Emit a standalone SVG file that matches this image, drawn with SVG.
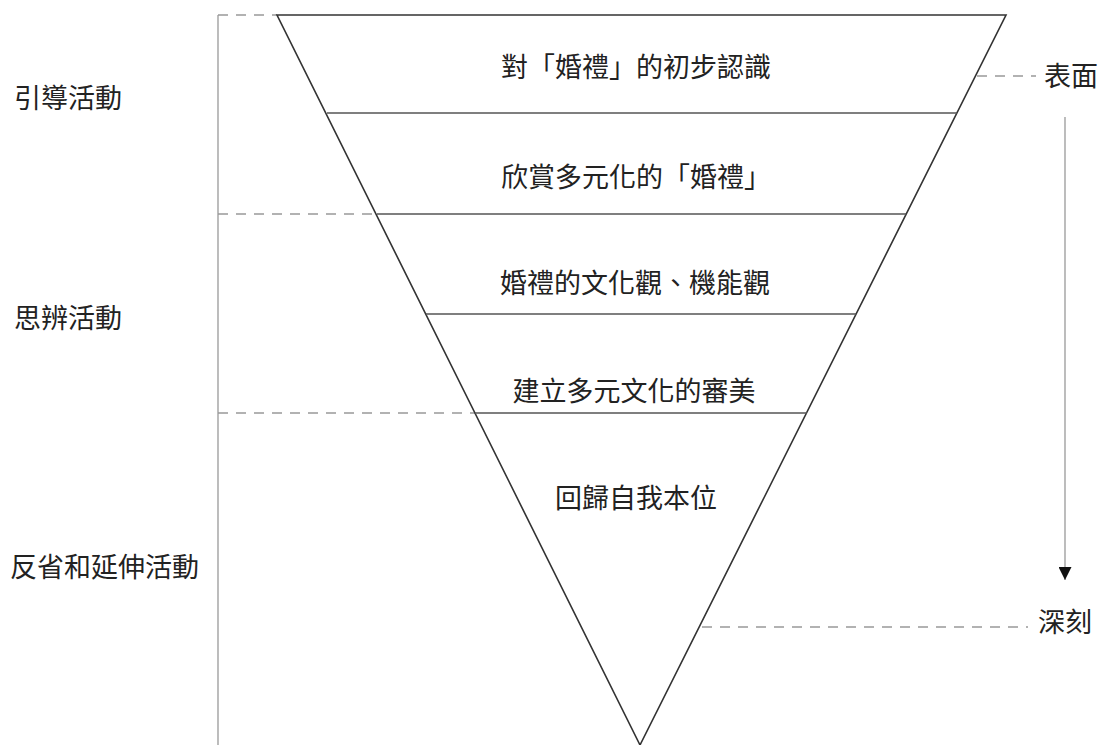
<svg xmlns="http://www.w3.org/2000/svg" width="1100" height="745" viewBox="0 0 1100 745">
<defs>
<style>
text{font-family:"Noto Sans CJK TC","Noto Sans CJK SC",sans-serif;font-size:27px;fill:#222}
.mid{text-anchor:middle}
.tri{fill:none;stroke:#333;stroke-width:1.6}
.band{stroke:#555;stroke-width:1.3}
.dash{stroke:#999;stroke-width:1.3;stroke-dasharray:10 8}
.vline{stroke:#999;stroke-width:1.3}
</style>
<marker id="ah" viewBox="0 0 10 10" refX="10" refY="5" markerWidth="13" markerHeight="13" markerUnits="userSpaceOnUse" orient="auto">
<path d="M0,0 L10,5 L0,10 Z" fill="#111"/>
</marker>
</defs>
<rect width="1100" height="745" fill="#fff"/>
<g id="connectors">
<line class="vline" x1="218" y1="15" x2="218" y2="745"/>
<line class="dash" x1="218" y1="15" x2="277" y2="15"/>
<line class="dash" x1="218" y1="214" x2="377" y2="214"/>
<line class="dash" x1="218" y1="413" x2="475" y2="413"/>
<line class="dash" x1="977" y1="76" x2="1036" y2="76"/>
<line class="dash" x1="702" y1="627" x2="1028" y2="627"/>
<line x1="1065" y1="117" x2="1065" y2="580" stroke="#999" stroke-width="1.3" marker-end="url(#ah)"/>
</g>
<g id="triangle">
<polygon class="tri" points="277,15 1006,15 640,745"/>
<line class="band" x1="327" y1="113" x2="957" y2="113"/>
<line class="band" x1="377" y1="214" x2="906" y2="214"/>
<line class="band" x1="426" y1="314" x2="856" y2="314"/>
<line class="band" x1="475" y1="413" x2="807" y2="413"/>
</g>
<g id="layer1"><text class="mid" x="636" y="77">對「婚禮」的初步認識</text></g>
<g id="layer2"><text class="mid" x="636" y="187">欣賞多元化的「婚禮」</text></g>
<g id="layer3"><text class="mid" x="635" y="293">婚禮的文化觀、機能觀</text></g>
<g id="layer4"><text class="mid" x="634" y="401">建立多元文化的審美</text></g>
<g id="layer5"><text class="mid" x="636" y="508">回歸自我本位</text></g>
<g id="label-guide"><text x="14" y="108">引導活動</text></g>
<g id="label-think"><text x="14" y="328">思辨活動</text></g>
<g id="label-reflect"><text x="10" y="577">反省和延伸活動</text></g>
<g id="label-surface"><text x="1044" y="86">表面</text></g>
<g id="label-deep"><text x="1038" y="632">深刻</text></g>
</svg>
